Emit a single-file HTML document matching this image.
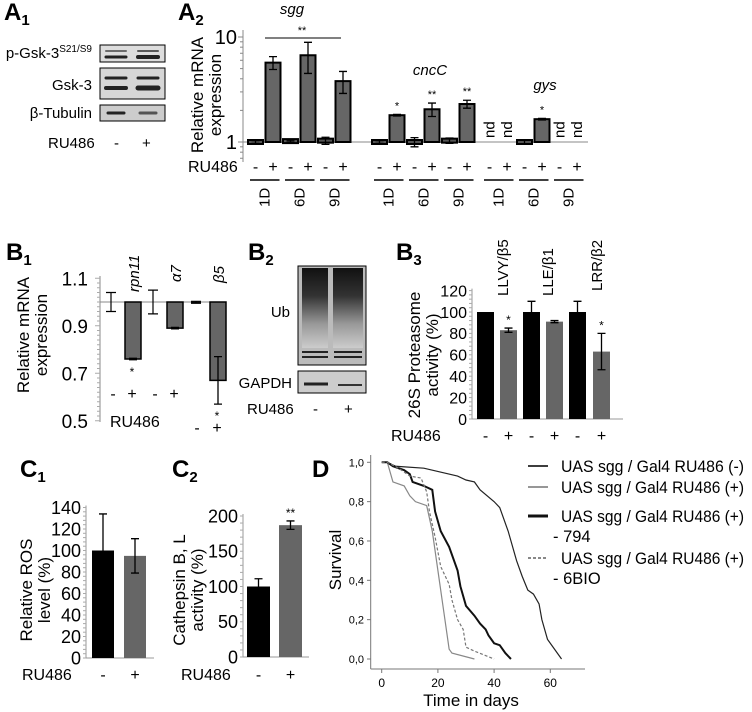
<!DOCTYPE html>
<html><head><meta charset="utf-8"><style>
body{margin:0;background:#fff;}
svg{display:block;font-family:"Liberation Sans",sans-serif;}
</style></head><body>
<svg id="s" width="752" height="712" viewBox="0 0 752 712" xmlns="http://www.w3.org/2000/svg">
<defs>
<linearGradient id="ubg" x1="0" y1="0" x2="0" y2="1">
<stop offset="0" stop-color="#111"/><stop offset="0.35" stop-color="#333"/><stop offset="0.7" stop-color="#999"/><stop offset="1" stop-color="#ccc"/>
</linearGradient>
</defs>
<g font-size="24" font-weight="bold">
<text x="4" y="20">A<tspan font-size="15" dy="5">1</tspan></text>
<text x="178" y="20">A<tspan font-size="15" dy="5">2</tspan></text>
<text x="6" y="260">B<tspan font-size="15" dy="5">1</tspan></text>
<text x="248" y="260">B<tspan font-size="15" dy="5">2</tspan></text>
<text x="396" y="260">B<tspan font-size="15" dy="5">3</tspan></text>
<text x="20" y="477">C<tspan font-size="15" dy="5">1</tspan></text>
<text x="172" y="477">C<tspan font-size="15" dy="5">2</tspan></text>
<text x="312" y="477">D</text>
</g>
<!-- A1 blot -->
<g font-size="15">
<text x="92" y="58" text-anchor="end">p-Gsk-3<tspan font-size="10" dy="-6">S21/S9</tspan></text>
<text x="92" y="90" text-anchor="end">Gsk-3</text>
<text x="92" y="118" text-anchor="end">β-Tubulin</text>
<text x="48" y="148">RU486</text><text x="114" y="148">-</text><text x="142" y="148">+</text>
<rect x="100" y="45" width="65" height="17" fill="#ddd" stroke="#000"/>
<rect x="100" y="68" width="65" height="31" fill="#d6d6d6" stroke="#000"/>
<rect x="100" y="105" width="65" height="16" fill="#ccc" stroke="#000"/>
<g stroke="#222" stroke-linecap="round">
<line x1="106" y1="51" x2="126" y2="51" stroke-width="2" opacity=".6"/><line x1="138" y1="51" x2="158" y2="51" stroke-width="2" opacity=".7"/>
<line x1="106" y1="57" x2="126" y2="57" stroke-width="3"/><line x1="138" y1="57" x2="158" y2="57" stroke-width="4"/>
<line x1="106" y1="78" x2="126" y2="78" stroke-width="3"/><line x1="138" y1="78" x2="158" y2="78" stroke-width="3"/>
<line x1="106" y1="88" x2="126" y2="88" stroke-width="4"/><line x1="138" y1="88" x2="158" y2="88" stroke-width="5"/>
<line x1="108" y1="113" x2="124" y2="113" stroke-width="3"/><line x1="140" y1="113" x2="156" y2="113" stroke-width="3" opacity=".7"/>
</g></g>
<!-- B2 blot -->
<g font-size="15">
<rect x="298" y="266" width="68" height="99" fill="#bbb" stroke="#000"/>
<rect x="302" y="268" width="26" height="80" fill="url(#ubg)"/><rect x="333" y="268" width="30" height="80" fill="url(#ubg)"/>
<line x1="302" y1="352" x2="328" y2="352" stroke="#222" stroke-width="2"/><line x1="334" y1="352" x2="362" y2="352" stroke="#222" stroke-width="2"/>
<line x1="302" y1="357" x2="328" y2="357" stroke="#222" stroke-width="2"/><line x1="334" y1="357" x2="362" y2="357" stroke="#222" stroke-width="2"/>
<rect x="298" y="371" width="68" height="22" fill="#ccc" stroke="#000"/>
<line x1="304" y1="384" x2="328" y2="384" stroke="#222" stroke-width="3"/><line x1="338" y1="385" x2="362" y2="385" stroke="#333" stroke-width="2"/>
<text x="290" y="317" text-anchor="end">Ub</text>
<text x="292" y="388" text-anchor="end">GAPDH</text>
<text x="247" y="414">RU486</text><text x="313" y="414">-</text><text x="344" y="414">+</text>
</g>
<g id="charts"></g>
</svg>
<script>
const NS="http://www.w3.org/2000/svg";
const root=document.getElementById('charts');
function mk(tag,attrs,parent,txt){const e=document.createElementNS(NS,tag);for(const k in attrs)e.setAttribute(k,attrs[k]);if(txt!==undefined)e.textContent=txt;(parent||root).appendChild(e);return e;}
function grp(name){const g=mk('g',{});return g;}

/* ===== A2 data ===== */
const a2Genes=["sgg","cncC","gys"];
const a2Days=["1D","6D","9D"];
const a2Minus=[[1.0,1.02,1.03],[1.0,1.0,1.03],[null,1.0,null]];
const a2Plus=[[5.7,6.7,3.8],[1.8,2.05,2.3],[null,1.65,null]];
const a2MinusErr=[[0.03,0.02,0.08],[0.03,0.1,0.06],[0,0.05,0]];
const a2PlusErr=[[0.8,2.2,0.9],[0.03,0.3,0.2],[0,0.03,0]];
const a2Stars=[["","",""],["*","**","**"],["","*",""]];
const a2Ticks=[1,10];
{
const g=grp('a2-chart');
const x0=243, yA=v=>142-105*Math.log10(v);
const groupStart=[248,372,482];
const bw=15, step=17.5;
mk('line',{x1:x0,y1:30,x2:x0,y2:162,stroke:'#888'},g);
mk('line',{x1:x0,y1:142,x2:588,y2:142,stroke:'#888'},g);
for(let d=1;d<=10;d++){mk('line',{x1:x0-(d===1||d===10?5:3),y1:yA(d),x2:x0,y2:yA(d),stroke:'#888'},g);}
for(const d of [0.7,0.8,0.9]) mk('line',{x1:x0-3,y1:yA(d),x2:x0,y2:yA(d),stroke:'#888'},g);
a2Ticks.forEach(t=>{const e=mk('text',{x:x0-6,y:yA(t)+7,'text-anchor':'end','font-size':20},g,String(t));});
const yl=mk('text',{transform:'translate(203,95) rotate(-90)','text-anchor':'middle','font-size':17},g);

mk('tspan',{x:0,dy:0},yl,'Relative mRNA');mk('tspan',{x:0,dy:18},yl,'expression');
mk('text',{x:188,y:172,'font-size':16},g,'RU486');
const titleX=[292,430,545], titleY=[14,75,90];
a2Genes.forEach((gn,gi)=>{
 const t=mk('text',{x:titleX[gi],y:titleY[gi],'text-anchor':'middle','font-size':15,'font-style':'italic'},g,gn);
 
 a2Days.forEach((dy,di)=>{
  const xm=groupStart[gi]+di*2*step, xp=xm+step;
  [[a2Minus,a2MinusErr,xm,'-'],[a2Plus,a2PlusErr,xp,'+']].forEach(([vals,errs,x,sg])=>{
   const v=vals[gi][di];
   if(v===null){const nd=mk('text',{transform:`translate(${x+bw/2+5},${138}) rotate(-90)`,'font-size':15},g,'nd');}
   else{
    const y=yA(v);
    const b=mk('rect',{x:x,y:Math.min(y,142)-(v<=1.05?2:0),width:bw,height:Math.max(Math.abs(142-y),4),fill:sg==='+'?'#666':'#555',stroke:'#000','stroke-width':2},g);
    
    const e=errs[gi][di];
    if(e>0){const cx=x+bw/2;mk('path',{d:`M${cx},${yA(v+e)}V${yA(Math.max(v-e,0.5))}M${cx-4},${yA(v+e)}h8M${cx-4},${yA(Math.max(v-e,0.5))}h8`,stroke:'#000','stroke-width':1.3,fill:'none'},g);}
    if(sg==='+'&&a2Stars[gi][di])mk('text',{x:x+bw/2,y:yA(v+e)-5,'text-anchor':'middle','font-size':11},g,a2Stars[gi][di]);
   }
   mk('text',{x:x+bw/2,y:172,'text-anchor':'middle','font-size':16},g,sg);
  });
  mk('line',{x1:xm+2,y1:180,x2:xp+bw-1,y2:180,stroke:'#000','stroke-width':1.5},g);
  mk('text',{transform:`translate(${xp+4},207) rotate(-90)`,'font-size':15},g,dy);
 });
});
mk('line',{x1:265,y1:38,x2:341,y2:38,stroke:'#000'},g);
mk('text',{x:302,y:34,'text-anchor':'middle','font-size':11},g,'**');
}

/* ===== B1 data ===== */
const b1Genes=["rpn11","α7","β5"];
const b1Minus=[1.0,1.0,1.0];
const b1Plus=[0.76,0.89,0.67];
const b1MinusErr=[0.04,0.05,0.003];
const b1PlusErr=[0.003,0.003,0.1];
const b1Ticks=[0.5,0.7,0.9,1.1];
{
const g=grp('b1-chart');
const x0=100,yB=v=>302-(v-1)*237.5;
mk('line',{x1:x0,y1:276,x2:x0,y2:422,stroke:'#888'},g);
for(let v=0.5;v<=1.101;v+=0.02)mk('line',{x1:x0-(Math.abs((v*10)%2-1)<0.05?5:3),y1:yB(v),x2:x0,y2:yB(v),stroke:'#aaa'},g);
b1Ticks.forEach(t=>mk('text',{x:x0-12,y:yB(t)+7,'text-anchor':'end','font-size':19},g,t.toFixed(1)));
mk('line',{x1:x0,y1:yB(1),x2:226,y2:yB(1),stroke:'#888'},g);
const yl=mk('text',{transform:'translate(29,335) rotate(-90)','text-anchor':'middle','font-size':17},g);

mk('tspan',{x:0,dy:0},yl,'Relative mRNA');mk('tspan',{x:0,dy:18},yl,'expression');
const xs=[105,147,190], bw=16;
b1Genes.forEach((gn,i)=>{
 const xm=xs[i],xp=xs[i]+20;
 mk('text',{transform:`translate(${xp+14},${gn==='rpn11'?292:(gn==='α7'?282:283)}) rotate(-90)`,'font-size':15,'font-style':'italic'},g,gn);
 const vm=b1Minus[i],em=b1MinusErr[i];
 if(i===2){mk('rect',{x:xm+1,y:yB(1)-1,width:10,height:3,fill:'#333'},g);}
 mk('path',{d:`M${xm+6},${yB(vm+em)}V${yB(vm-em)}M${xm+1},${yB(vm+em)}h10M${xm+1},${yB(vm-em)}h10`,stroke:'#000','stroke-width':1.2,fill:'none'},g);
 const vp=b1Plus[i],ep=b1PlusErr[i];
 const b=mk('rect',{x:xp,y:yB(1),width:bw,height:yB(vp)-yB(1),fill:'#666',stroke:'#000','stroke-width':1.5},g);
 
 mk('path',{d:`M${xp+bw/2},${yB(vp+ep)}V${yB(vp-ep)}M${xp+bw/2-4},${yB(vp+ep)}h8M${xp+bw/2-4},${yB(vp-ep)}h8`,stroke:'#000','stroke-width':1.3,fill:'none'},g);
});
[[113,'-'],[132,'+'],[155,'-'],[174,'+']].forEach(([x,s])=>mk('text',{x:x,y:399,'text-anchor':'middle','font-size':16},g,s));
mk('text',{x:197,y:433,'text-anchor':'middle','font-size':16},g,'-');mk('text',{x:217,y:433,'text-anchor':'middle','font-size':16},g,'+');
mk('text',{x:217,y:420,'text-anchor':'middle','font-size':12},g,'*');
mk('text',{x:132,y:376,'text-anchor':'middle','font-size':12},g,'*');
mk('text',{x:110,y:427,'font-size':16},g,'RU486');
}

/* generic bar chart */
function barChart(name,x0,y0,yTop,maxV,ticks,minorStep,bars,vals,errs,colors,stars,ylab,ylx,yly,signY,ruX,tickFs){
 const g=grp(name);
 const y=v=>y0-(v/maxV)*(y0-yTop);
 mk('line',{x1:x0,y1:y(ticks[ticks.length-1])-2,x2:x0,y2:y0,stroke:'#999'},g);
 for(let v=0;v<=ticks[ticks.length-1]+0.01;v+=minorStep)mk('line',{x1:x0-3,y1:y(v),x2:x0,y2:y(v),stroke:'#aaa'},g);
 mk('line',{x1:x0,y1:y0,x2:bars[bars.length-1]+30,y2:y0,stroke:'#999'},g);
 ticks.forEach(t=>mk('text',{x:x0-5,y:y(t)+tickFs*0.36,'text-anchor':'end','font-size':tickFs},g,String(t)));
 const yl=mk('text',{transform:`translate(${ylx},${yly}) rotate(-90)`,'text-anchor':'middle','font-size':17},g);
 
 mk('tspan',{x:0,dy:0},yl,ylab[0]);mk('tspan',{x:0,dy:18},yl,ylab[1]);
 vals.forEach((v,i)=>{
  const bx=bars[i],bw=bars.w;
  const r=mk('rect',{x:bx,y:y(v),width:bw,height:y0-y(v),fill:colors[i]},g);
  
  const e=errs[i],cx=bx+bw/2;
  if(e>0.5)mk('path',{d:`M${cx},${y(v+e)}V${y(v-e)}M${cx-4},${y(v+e)}h8M${cx-4},${y(v-e)}h8`,stroke:'#000','stroke-width':1.3,fill:'none'},g);
  if(stars[i])mk('text',{x:cx,y:y(v+e)-4,'text-anchor':'middle','font-size':12},g,stars[i]);
  mk('text',{x:cx,y:signY,'text-anchor':'middle','font-size':16},g,i%2?'+':'-');
 });
 mk('text',{x:ruX,y:signY,'font-size':16},g,'RU486');
 return g;
}

/* ===== B3 data ===== */
const b3Values=[100,83,100,91,100,63];
const b3Errors=[0.3,2,10,1,10,17];
const b3Stars=["","*","","","","*"];
const b3Ticks=[0,20,40,60,80,100,120];
const b3Substrates=["LLVY/β5","LLE/β1","LRR/β2"];
{
const bars=[477,500,523,546,569,593];bars.w=17;
const g=barChart('b3-chart',472,419,312,100,b3Ticks,4,bars,b3Values,b3Errors,['#000','#666','#000','#666','#000','#666'],b3Stars,['26S Proteasome','activity (%)'],420,355,441,391,16);
[[508,296],[553,296],[602,291]].forEach(([x,yy],i)=>mk('text',{transform:`translate(${x},${yy}) rotate(-90)`,'font-size':15},g,b3Substrates[i]));
}

/* ===== C1 data ===== */
const c1Values=[100,95];
const c1Errors=[34,16];
const c1Ticks=[0,20,40,60,80,100,120,140];
{const bars=[92,124];bars.w=22;
barChart('c1-chart',86,658,507.5,140,c1Ticks,4,bars,c1Values,c1Errors,['#000','#666'],["",""],['Relative ROS','level (%)'],32,590,680,22,18);}

/* ===== C2 data ===== */
const c2Values=[100,187];
const c2Errors=[11,6];
const c2Ticks=[0,50,100,150,200];
{const bars=[247,279];bars.w=23;
barChart('c2-chart',243,657,516,200,c2Ticks,10,bars,c2Values,c2Errors,['#000','#666'],["","**"],['Cathepsin B, L','activity  (%)'],185,590,680,181,18);}

/* ===== D survival data ===== */
const dLabels=["UAS sgg / Gal4 RU486 (-)","UAS sgg / Gal4 RU486 (+)","UAS sgg / Gal4 RU486 (+)","UAS sgg / Gal4 RU486 (+)"];
const dCtrlDays=[0,2,5,15,27,30,33,35,40,42,45,48,50,52,54,56,57,59,64];
const dCtrlSurv=[1,1,0.98,0.97,0.93,0.91,0.90,0.86,0.80,0.77,0.65,0.50,0.42,0.35,0.33,0.28,0.20,0.10,0];
const dRuDays=[0,2,4,8,10,12,16,18,20,22,24,25,33];
const dRuSurv=[1,1,0.90,0.88,0.83,0.80,0.78,0.65,0.45,0.25,0.05,0.03,0];
const d794Days=[0,2,4,8,10,11,15,18,19,21,24,27,28,30,33,35,37,38,40,42,44,46];
const d794Surv=[1,1,0.98,0.96,0.94,0.90,0.88,0.86,0.75,0.65,0.57,0.45,0.37,0.27,0.22,0.18,0.15,0.12,0.08,0.07,0.03,0];
const dBioDays=[0,2,6,10,14,16,17,19,21,24,25,27,29,30,33,40];
const dBioSurv=[1,1,0.97,0.93,0.92,0.85,0.75,0.62,0.47,0.38,0.30,0.20,0.15,0.06,0.04,0];
const dXTicks=[0,20,40,60];
const dYTicks=[0,0.2,0.4,0.6,0.8,1.0];
{
const g=grp('d-survival-chart');
const xD=d=>381.7+d*2.81, yD=s=>659-s*196.7;
mk('line',{x1:370.7,y1:455,x2:370.7,y2:669,stroke:'#777'},g);
mk('line',{x1:370.7,y1:669,x2:585,y2:669,stroke:'#777'},g);
dYTicks.forEach(t=>{mk('line',{x1:367,y1:yD(t),x2:371,y2:yD(t),stroke:'#777'},g);mk('text',{x:364,y:yD(t)+4,'text-anchor':'end','font-size':11},g,t.toFixed(1).replace('.',','));});
dXTicks.forEach(t=>{mk('line',{x1:xD(t),y1:669,x2:xD(t),y2:673,stroke:'#777'},g);mk('text',{x:xD(t),y:687,'text-anchor':'middle','font-size':12},g,String(t));});
mk('text',{x:471,y:706,'text-anchor':'middle','font-size':17},g,'Time in days');
mk('text',{transform:'translate(341,560) rotate(-90)','text-anchor':'middle','font-size':17},g,'Survival');
const series=[[dCtrlDays,dCtrlSurv,'#222',1.2,''],[dRuDays,dRuSurv,'#888',1.2,''],[d794Days,d794Surv,'#111',2,''],[dBioDays,dBioSurv,'#777',1.2,'3,2']];
const names=['d-line-control','d-line-ru486','d-line-794','d-line-6bio'];
series.forEach(([dd,ss,c,w,da],i)=>{
 const p=mk('polyline',{points:dd.map((d,j)=>xD(d)+','+yD(ss[j])).join(' '),fill:'none',stroke:c,'stroke-width':w,'stroke-dasharray':da},g);
 
});
const ly=[472,493,522,564];
series.forEach(([dd,ss,c,w,da],i)=>{
 const le=mk('g',{},g);
 mk('line',{x1:528,y1:ly[i]-6,x2:548,y2:ly[i]-6,stroke:c,'stroke-width':i===2?3:1.8,'stroke-dasharray':da},le);
 mk('text',{x:561,y:ly[i],'font-size':16.5,textLength:183,lengthAdjust:'spacingAndGlyphs'},le,dLabels[i]);
});
mk('text',{x:553,y:542,'font-size':16.5},g,'- 794');
mk('text',{x:553,y:584,'font-size':16.5},g,'- 6BIO');
}
</script>
</body></html>
